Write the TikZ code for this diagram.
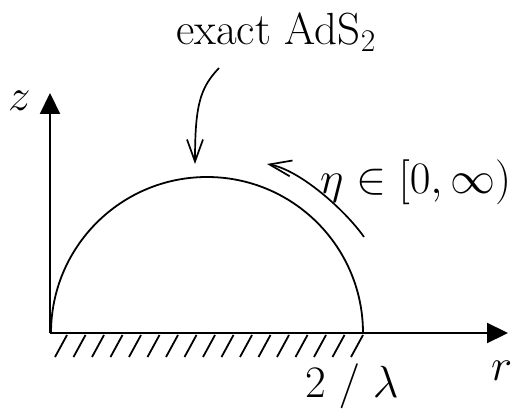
\RequirePackage{fix-cm}
\documentclass[tikz,border=0pt]{standalone}
\usetikzlibrary{arrows.meta}
\begin{document}
\begin{tikzpicture}[x=1pt,y=1pt,
  lbl/.style={inner sep=0pt,font=\fontsize{45}{52}\selectfont},
  axis/.style={line width=2.2pt,-{Triangle[length=21pt,width=20pt]}},
  pointer/.style={line width=1.7pt,-{Straight Barb[length=22pt,width=16pt,line width=1.7pt]}},
  hatch/.style={line width=1.8pt}]
\useasboundingbox (0,0) rectangle (521,410);
% axes
\coordinate (O) at (50,77);
\coordinate (Ztop) at (50,317);
\coordinate (Rtip) at (508,77);
\coordinate (C) at (207,77);
\coordinate (E) at (363,77);
% hatching
\foreach \k in {0,...,16}{
  \draw[hatch] ({55+18.5*\k},53) -- ({67+18.5*\k},75);
}
\draw[axis] (O) -- (Ztop);
\draw[axis] (O) -- (Rtip);
% semicircle
\draw[line width=1.8pt] (E) arc[start angle=0,end angle=180,radius=156];
% labels
\node[lbl,anchor=base west] (zl) at (8,299) {$z$};
\node[lbl,anchor=base west] (rl) at (491,30) {$r$};
\node[lbl,anchor=base west] (lam) at (305,13) {$2\;/\;\lambda$};
\node[lbl,anchor=base west] (ads) at (176,365) {exact AdS$_2$};
\node[lbl,anchor=base west] (eta) at (320,217) {$\eta\in[0,\infty)$};
% pointers
\coordinate (a1s) at (219,342);
\coordinate (a1e) at (195,246);
\draw[pointer] (a1s) .. controls (200,322) and (195,305) .. (a1e);
\coordinate (a2s) at (364,173);
\coordinate (a2e) at (267,246);
\draw[pointer] (a2s) .. controls (345,200) and (300,240) .. (a2e);
\end{tikzpicture}
\end{document}
